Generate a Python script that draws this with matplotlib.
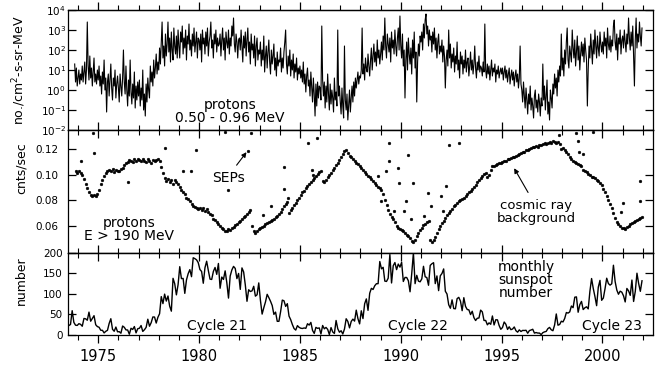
import numpy as np
import matplotlib
matplotlib.use("Agg")
import matplotlib.pyplot as plt
from matplotlib.ticker import MultipleLocator, NullLocator, NullFormatter, FixedLocator, LogFormatterSciNotation

# ---------------- data ----------------
# Panel 1: log10 of 0.50-0.96 MeV proton flux, half-month steps
flux_start = 1973.833
flux_step = 1 / 24
flux_log10 = [
    1.3, 0.4, 1.1, 0.2,
    0.6, 1.0, 0.3, 0.8, 0.5, 1.2, 0.4, 0.9, 1.4, 0.3, 1.0, 3.4, 1.2, 0.5, 1.7, 0.6, 1.1, 0.2, 0.9, 1.6, 0.4, 0.8, 0.3, 1.0,
    0.5, 1.2, 0.2, 0.7, -0.2, 0.9, 0.3, 1.5, 0.0, 0.6, -1.1, 0.4, 0.8, -0.3, 0.5, 1.3, 0.1, -0.5, 0.6, 0.2, 1.0, -0.4, 0.3, 0.7,
    0.1, -0.6, 0.8, 0.2, -0.3, 0.6, 2.0, 0.4, -0.2, 1.2, 0.0, -0.8, 0.5, -0.3, 1.5, -0.1, -0.7, 0.3, -0.4, 0.9, -0.9, 0.2, -0.5, 0.4,
    -0.3, 0.5, -0.8, 0.1, -0.5, 1.0, -1.0, -0.2, -1.3, 0.3, -0.6, 0.6, 0.0, -0.4, 1.2, 0.4, 0.9, 0.2, 1.5, 0.6, 1.1, 1.8, 0.8, 1.4,
    1.0, 2.1, 1.3, 2.4, 3.4, 1.6, 2.2, 1.2, 2.8, 1.7, 2.3, 3.4, 1.9, 2.6, 1.4, 2.9, 2.0, 1.5, 3.1, 2.2, 1.8, 2.7, 1.6, 3.0,
    2.2, 1.6, 2.9, 2.4, 3.2, 1.8, 2.6, 2.1, 3.0, 1.5, 2.7, 2.3, 3.3, 2.0, 2.5, 1.7, 2.8, 2.2, 3.1, 1.9, 2.4, 2.9, 1.6, 2.6,
    2.5, 2.0, 2.8, 1.4, 3.0, 2.3, 2.6, 1.8, 2.9, 2.2, 3.1, 1.7, 2.4, 2.7, 3.4, 2.1, 2.5, 1.6, 2.8, 2.3, 3.0, 1.9, 2.6, 2.2,
    2.3, 2.8, 1.7, 2.5, 3.1, 2.0, 2.6, 1.5, 2.9, 2.4, 2.1, 3.0, 1.8, 2.6, 2.2, 3.2, 2.7, 3.6, 2.3, 1.9, 2.8, 2.4, 1.6, 2.5,
    2.6, 2.0, 3.0, 2.2, 1.4, 2.7, 2.1, 2.9, 1.7, 2.5, 3.1, 1.9, 2.4, 1.3, 2.8, 2.0, 2.3, 1.6, 2.7, 1.2, 2.2, 2.6, 1.5, 2.0,
    1.8, 2.4, 1.2, 2.0, 1.5, 2.7, 0.9, 1.7, 2.2, 1.1, 1.9, 2.5, 1.4, 0.8, 2.0, 1.3, 1.7, 2.3, 1.0, 1.6, 0.7, 1.9, 1.2, 1.5,
    1.4, 2.1, 0.9, 1.6, 1.1, 1.9, 2.4, 3.0, 1.3, 0.8, 1.7, 1.2, 2.0, 0.7, 1.5, 1.0, 1.8, 0.6, 1.3, 0.9, 1.6, 0.5, 1.1, 0.8,
    1.2, 0.6, 1.0, 0.4, 1.4, 0.3, 0.8, -0.1, 0.7, 1.1, 0.2, 0.5, -0.3, 0.9, 0.1, -0.6, 0.6, -0.2, -1.3, 0.3, -0.8, 0.4, -0.4, 0.2,
    0.1, -0.5, 3.2, 0.5, -0.3, 0.4, -0.9, 0.2, -0.6, 0.8, -0.2, -1.0, 0.3, -0.7, 0.0, -0.4, -1.1, 0.6, -0.5, -0.1, -0.8, 3.0, -0.3, 0.2,
    -0.6, -1.2, 0.1, -0.8, -1.4, 2.2, -0.5, -1.0, -0.2, -1.5, -0.7, 0.0, -1.1, -0.4, 0.2, -0.6, 0.4, -0.3, 0.6, 0.1, 0.5, 0.9, 0.3, 0.7,
    0.6, 1.0, 3.1, 0.8, 1.3, 0.5, 1.6, 1.1, 0.9, 1.8, 1.2, 0.7, 1.5, 2.1, 1.0, 1.7, 2.3, 1.4, 1.9, 1.2, 2.5, 1.6, 2.0, 1.3,
    1.8, 2.4, 1.5, 2.7, 2.0, 3.6, 2.2, 1.6, 2.8, 2.3, 1.9, 2.6, 1.4, 2.9, 2.1, 2.5, 1.8, 3.0, 2.2, 1.7, 2.6, 3.1, 2.0, 3.7,
    2.2, 1.6, 2.8, 1.2, 2.0, -0.4, 1.5, 2.4, 1.0, 2.6, 1.8, 1.3, 2.1, 0.8, 2.5, 1.6, 2.9, 1.1, 1.9, -0.6, 1.4, 2.3, 1.7, 2.7,
    2.4, 2.9, 2.0, 3.3, 2.6, 3.5, 3.8, 2.8, 3.2, 2.2, 3.0, 2.5, 2.7, 1.9, 2.9, 2.3, 3.1, 2.0, 2.6, 1.6, 2.4, 2.8, 1.8, 2.2,
    1.9, 2.5, 1.4, 2.2, 1.7, 0.1, 1.5, 2.0, 1.2, 3.0, 1.6, 2.3, 1.1, 1.8, 1.4, 2.1, 0.9, 1.7, 1.3, 2.4, 1.0, 1.5, 0.6, 1.9,
    1.3, 1.7, 0.8, 1.5, 1.1, 2.0, 0.9, 1.4, 1.6, 0.7, 1.2, 1.9, 1.0, 1.5, 0.8, 1.3, 2.2, 1.1, 0.6, 1.4, 1.0, 1.7, 0.9, 1.2,
    1.1, 0.7, 1.4, 0.9, 3.3, 1.0, 0.6, 1.3, 0.8, 1.2, 0.5, 1.0, 1.5, 0.7, 1.1, 0.9, 1.3, 0.4, 1.0, 0.8, 1.2, 0.6, 0.9, 1.1,
    0.8, 1.1, 0.5, 0.9, 1.2, 0.6, 1.0, 0.4, 0.8, 1.1, 0.3, 0.7, 1.0, 0.5, 0.9, 0.2, 0.7, 1.0, 0.4, 0.8, 0.1, 0.6, 2.2, 0.3,
    0.0, -0.6, 0.4, -0.3, -0.9, 0.1, -0.5, -1.2, -0.2, -0.7, 0.2, -1.0, -0.4, -0.8, -1.4, -0.3, 0.0, -0.9, -0.5, -1.1, -0.2, -0.6, -1.3, -0.4,
    -0.8, 1.3, -0.5, 0.2, -1.0, -0.3, 0.5, -1.2, -0.6, -1.5, 0.0, -0.4, -0.9, 0.3, -0.2, 0.8, 0.1, 0.6, -0.3, 1.0, 0.4, 1.2, 0.7, 2.8,
    1.0, 1.6, 0.7, 2.0, 1.3, 2.4, 3.1, 1.5, 1.1, 2.2, 1.8, 1.4, 3.0, 2.1, 1.6, 2.5, 1.2, 1.9, 2.7, 1.5, 2.2, 1.0, 1.8, 2.4,
    1.7, 2.3, 1.4, 2.6, 2.0, 1.5, -0.8, 1.0, 2.2, 1.6, 2.8, 2.0, 1.3, 2.5, 1.8, 3.0, 2.2, 1.6, 2.7, 2.1, 1.7, 2.9, 2.3, 1.9,
    2.4, 1.8, 2.9, 2.2, 2.6, 1.6, 3.1, 2.3, 2.0, 2.7, 1.9, 2.5, 2.2, 3.2, 3.5, 2.4, 2.0, 2.8, 1.5, 2.6, 2.3, 3.0, 1.8, 2.5,
    2.7, 2.1, 3.0, 2.4, 1.9, 2.8, 2.3, 3.6, 2.6, 2.0, 2.9, 2.2, 3.2, 1.7, 0.2, 2.5, 3.6, 2.1, 2.8, 2.4, 3.4, 2.7, 2.2, 3.1,
]

# Panel 2: >190 MeV proton count rate (cnts/sec), monthly from Nov 1973
cr_start = 1973.875
cr_step = 1 / 12
cr_rate = [
    0.1025, 0.1010,
    0.1030, 0.1015, 0.0995, 0.0965, 0.0930, 0.0895, 0.0860, 0.0840, 0.0830, 0.0840, 0.0835, 0.0850,
    0.0880, 0.0925, 0.0960, 0.0990, 0.1010, 0.1030, 0.1040, 0.1025, 0.1045, 0.1020, 0.1035, 0.1025,
    0.1030, 0.1045, 0.1055, 0.1075, 0.1090, 0.1100, 0.1115, 0.1110, 0.1100, 0.1125, 0.1110, 0.1125,
    0.1115, 0.1105, 0.1125, 0.1110, 0.1100, 0.1120, 0.1110, 0.1095, 0.1115, 0.1105, 0.1115, 0.1120,
    0.1110, 0.1060, 0.1010, 0.0975, 0.0950, 0.0965, 0.0940, 0.0955, 0.0930, 0.0960, 0.0945, 0.0925,
    0.0905, 0.0880, 0.0860, 0.0845, 0.0820, 0.0805, 0.0790, 0.0770, 0.0755, 0.0745, 0.0740, 0.0730,
    0.0735, 0.0720, 0.0740, 0.0715, 0.0730, 0.0705, 0.0695, 0.0680, 0.0655, 0.0645, 0.0625, 0.0615,
    0.0600, 0.0585, 0.0570, 0.0560, 0.0555, 0.0575, 0.0565, 0.0580, 0.0590, 0.0605, 0.0615, 0.0625,
    0.0635, 0.0650, 0.0665, 0.0675, 0.0690, 0.0705, 0.0720, 0.0600, 0.0560, 0.0545, 0.0555, 0.0570,
    0.0580, 0.0590, 0.0600, 0.0615, 0.0620, 0.0630, 0.0640, 0.0645, 0.0655, 0.0665, 0.0675, 0.0690,
    0.0710, 0.0730, 0.0750, 0.0770, 0.0785, 0.0700, 0.0720, 0.0740, 0.0760, 0.0780, 0.0800, 0.0820,
    0.0840, 0.0860, 0.0875, 0.0895, 0.0910, 0.0925, 0.0945, 0.0960, 0.0975, 0.0990, 0.1005, 0.1020,
    0.1030, 0.0950, 0.0940, 0.0960, 0.0980, 0.0995, 0.1015, 0.1035, 0.1055, 0.1075, 0.1095, 0.1115,
    0.1140, 0.1160, 0.1185, 0.1195, 0.1170, 0.1150, 0.1135, 0.1120, 0.1105, 0.1090, 0.1080, 0.1065,
    0.1050, 0.1035, 0.1020, 0.1005, 0.0990, 0.0980, 0.0965, 0.0950, 0.0935, 0.0920, 0.0905, 0.0895,
    0.0880, 0.0850, 0.0800, 0.0760, 0.0720, 0.0690, 0.0670, 0.0650, 0.0630, 0.0600, 0.0580, 0.0570,
    0.0565, 0.0555, 0.0545, 0.0530, 0.0515, 0.0500, 0.0480, 0.0470, 0.0490, 0.0515, 0.0540, 0.0565,
    0.0585, 0.0605, 0.0615, 0.0625, 0.0640, 0.0490, 0.0470, 0.0485, 0.0510, 0.0540, 0.0570, 0.0600,
    0.0620, 0.0640, 0.0660, 0.0680, 0.0700, 0.0715, 0.0730, 0.0750, 0.0765, 0.0780, 0.0790, 0.0800,
    0.0810, 0.0820, 0.0835, 0.0850, 0.0860, 0.0875, 0.0890, 0.0905, 0.0920, 0.0940, 0.0960, 0.0975,
    0.0990, 0.1005, 0.1015, 0.0985, 0.0995, 0.1040, 0.1065, 0.1070, 0.1075, 0.1080, 0.1090, 0.1095,
    0.1100, 0.1105, 0.1110, 0.1120, 0.1125, 0.1130, 0.1135, 0.1140, 0.1150, 0.1155, 0.1165, 0.1170,
    0.1175, 0.1180, 0.1190, 0.1195, 0.1200, 0.1210, 0.1215, 0.1220, 0.1225, 0.1220, 0.1230, 0.1235,
    0.1240, 0.1245, 0.1240, 0.1250, 0.1255, 0.1250, 0.1260, 0.1255, 0.1245, 0.1255, 0.1240, 0.1200,
    0.1210, 0.1190, 0.1175, 0.1160, 0.1140, 0.1120, 0.1110, 0.1100, 0.1095, 0.1085, 0.1075, 0.1070,
    0.1040, 0.1030, 0.1020, 0.1005, 0.0995, 0.0985, 0.0980, 0.0970, 0.0960, 0.0950, 0.0935, 0.0915,
    0.0890, 0.0860, 0.0830, 0.0800, 0.0770, 0.0740, 0.0700, 0.0660, 0.0630, 0.0610, 0.0600, 0.0585,
    0.0580, 0.0575, 0.0590, 0.0600, 0.0610, 0.0620, 0.0630, 0.0640, 0.0645, 0.0655, 0.0660, 0.0665,
]

# Solar energetic particle (SEP) outliers in panel 2
sep_years = [1974.15, 1974.75, 1974.8, 1976.5, 1978.3, 1979.2, 1979.6, 1979.85, 1981.3, 1981.45,
             1982.45, 1982.55, 1983.15, 1983.55, 1984.2, 1984.22, 1984.4, 1985.4, 1985.6, 1985.65,
             1985.85, 1988.85, 1989.0, 1989.25, 1989.4, 1989.42, 1989.65, 1989.85, 1989.9, 1990.15,
             1990.25, 1990.35, 1990.5, 1990.6, 1991.15, 1991.35, 1991.5, 1992.0, 1992.1, 1992.25,
             1992.4, 1992.9, 1997.85, 1998.7, 1998.8, 1998.85, 1999.05, 1999.55, 2000.9, 2001.0,
             2001.85, 2001.87]
sep_rates = [0.1105, 0.1327, 0.1170, 0.0940, 0.1208, 0.1026, 0.1026, 0.1190, 0.1335, 0.0876,
             0.1184, 0.1330, 0.0680, 0.0757, 0.1058, 0.0884, 0.0820, 0.1248, 0.1034, 0.0995,
             0.1287, 0.0987, 0.0790, 0.1026, 0.1248, 0.1105, 0.0718, 0.1050, 0.0931, 0.0718,
             0.0797, 0.1153, 0.0655, 0.0931, 0.0678, 0.0852, 0.0750, 0.0829, 0.0718, 0.0908,
             0.1230, 0.1248, 0.1310, 0.1327, 0.1260, 0.1180, 0.1160, 0.1335, 0.0710, 0.0776,
             0.0790, 0.0947]

# Panel 3: monthly sunspot number, Jul 1973 - Dec 2001
ssn_start = 1973.542
ssn_step = 1 / 12
ssn = [
    23.1, 25.6, 59.3, 30.7, 23.9, 23.3,
    27.6, 26.0, 21.3, 40.3, 39.5, 36.0, 55.8, 33.6, 40.2, 47.1, 25.0, 20.5,
    18.9, 11.5, 11.5, 5.1, 9.0, 11.4, 28.2, 39.7, 13.9, 9.1, 19.4, 7.8,
    8.1, 4.3, 21.9, 18.8, 12.4, 12.2, 1.9, 16.4, 13.5, 20.6, 5.2, 15.3,
    16.4, 23.1, 8.7, 12.9, 18.6, 38.5, 21.4, 30.1, 44.0, 43.8, 29.1, 43.2,
    51.9, 93.6, 76.5, 99.7, 82.7, 95.1, 70.4, 58.1, 138.2, 125.1, 97.9, 122.7,
    166.6, 137.5, 138.0, 101.5, 134.4, 149.5, 159.4, 142.2, 188.4, 186.2, 183.3, 176.3,
    159.6, 155.0, 126.2, 164.1, 179.9, 157.3, 136.3, 135.4, 155.0, 164.7, 147.9, 174.4,
    114.0, 141.3, 135.5, 156.4, 127.5, 90.0, 143.8, 158.7, 167.3, 162.4, 137.5, 150.1,
    111.2, 163.6, 153.8, 122.0, 82.2, 110.4, 106.1, 107.6, 118.8, 94.7, 98.1, 127.0,
    84.3, 51.0, 66.5, 80.7, 99.2, 91.1, 82.2, 71.8, 50.3, 55.8, 33.3, 33.4,
    57.0, 85.1, 83.5, 69.7, 76.4, 46.1, 37.4, 25.5, 15.7, 12.0, 22.8, 18.7,
    16.5, 15.9, 17.2, 16.2, 27.5, 24.2, 30.7, 11.1, 3.9, 18.6, 16.2, 17.3,
    2.5, 23.2, 15.1, 18.5, 13.7, 1.1, 18.1, 7.4, 3.8, 35.4, 15.2, 6.8,
    10.4, 2.4, 14.7, 39.6, 33.0, 17.4, 33.0, 38.7, 33.9, 60.6, 39.9, 27.1,
    59.0, 40.0, 76.2, 88.0, 60.1, 101.8, 113.8, 111.0, 120.1, 125.1, 125.1, 179.2,
    161.3, 165.1, 131.4, 130.6, 138.5, 196.2, 126.9, 168.9, 176.7, 159.4, 173.0, 165.5,
    177.3, 130.5, 140.3, 140.3, 132.2, 105.4, 149.4, 200.3, 125.2, 145.5, 131.4, 129.7,
    136.9, 167.5, 141.9, 140.0, 121.3, 169.7, 173.7, 176.3, 125.3, 144.1, 108.2, 144.4,
    150.0, 161.1, 106.7, 99.8, 73.8, 65.2, 85.7, 64.5, 63.9, 88.7, 91.8, 82.6,
    59.3, 91.0, 69.8, 62.2, 61.3, 49.8, 57.9, 42.4, 35.3, 40.8, 41.5, 60.7,
    56.3, 35.4, 35.4, 24.8, 29.6, 26.1, 46.4, 24.5, 37.2, 36.9, 23.2, 13.9,
    18.3, 31.7, 26.2, 13.6, 20.0, 13.0, 14.6, 19.6, 10.5, 6.9, 12.5, 8.5,
    11.2, 11.0, 11.5, 4.3, 10.8, 12.2, 14.0, 4.6, 6.0, 4.7, 4.7, 0.9,
    5.7, 7.6, 8.7, 15.5, 18.5, 12.7, 10.4, 24.4, 51.3, 23.9, 25.6, 33.6,
    31.9, 40.3, 54.8, 53.4, 56.3, 70.7, 66.6, 92.2, 92.9, 55.5, 74.0, 81.9,
    62.0, 66.3, 68.8, 63.7, 106.4, 137.7, 113.5, 93.7, 71.5, 116.7, 133.2, 84.6,
    90.1, 112.9, 138.5, 125.5, 121.6, 124.9, 170.1, 130.5, 109.7, 99.4, 106.8, 104.4,
    95.6, 80.6, 113.5, 107.7, 96.6, 134.0, 81.8, 106.4, 150.7, 125.5, 106.5, 132.2,
]

x_major_ticks = [1975, 1980, 1985, 1990, 1995, 2000]
flux_ticks = [1e-2, 1e-1, 1e0, 1e1, 1e2, 1e3, 1e4]
cr_ticks = [0.06, 0.08, 0.10, 0.12]
ssn_ticks = [0, 50, 100, 150, 200]

# ---------------- figure ----------------
plt.rcParams['font.family'] = ['DejaVu Sans']
fig = plt.figure(figsize=(6.67, 3.65), dpi=100)
L, W = 0.1019, 0.877
ax1 = fig.add_axes([L, 0.6438, W, 0.3288])
ax2 = fig.add_axes([L, 0.3068, W, 0.3370])
ax3 = fig.add_axes([L, 0.0822, W, 0.2247])

t_flux = flux_start + flux_step * np.arange(len(flux_log10))
t_cr = cr_start + cr_step * np.arange(len(cr_rate))
t_ssn = ssn_start + ssn_step * np.arange(len(ssn))

ax1.plot(t_flux, 10 ** np.array(flux_log10), color='black', lw=0.8)
ax2.plot(t_cr, cr_rate, ls='none', marker='o', ms=2.0, mfc='black', mec='black', mew=0.3)
ax2.plot(sep_years, sep_rates, ls='none', marker='o', ms=2.0, mfc='black', mec='black', mew=0.3)
ax3.plot(t_ssn, ssn, color='black', lw=1.0)

for ax in (ax1, ax2, ax3):
    ax.set_xlim(1973.5, 2002.5)
    for s in ax.spines.values():
        s.set_linewidth(0.9)

ax1.set_yscale('log')
ax1.set_ylim(1e-2, 1e4)
ax1.yaxis.set_major_locator(FixedLocator(flux_ticks))
ax1.yaxis.set_minor_locator(NullLocator())
ax1.yaxis.set_major_formatter(LogFormatterSciNotation())
ax2.set_ylim(0.0385, 0.135)
ax2.yaxis.set_major_locator(FixedLocator(cr_ticks))
ax2.yaxis.set_major_formatter(plt.FuncFormatter(lambda v, p: f"{v:.2f}"))
ax3.set_ylim(0, 200)
ax3.yaxis.set_major_locator(FixedLocator(ssn_ticks))


def set_x_ticks(ax, bottom_dir, top_dir, labels):
    ax.xaxis.set_major_locator(FixedLocator(x_major_ticks))
    ax.xaxis.set_minor_locator(MultipleLocator(1))
    ax.tick_params(axis='x', which='major', direction=bottom_dir, length=6, width=0.9,
                   top=False, labelbottom=labels, labelsize=10.5, pad=4)
    ax.tick_params(axis='x', which='minor', direction=bottom_dir, length=3.5, width=0.8, top=False)
    sec = ax.secondary_xaxis('top')
    sec.xaxis.set_major_locator(FixedLocator(x_major_ticks))
    sec.xaxis.set_minor_locator(MultipleLocator(1))
    sec.xaxis.set_major_formatter(NullFormatter())
    sec.tick_params(axis='x', which='major', direction=top_dir, length=6, width=0.9)
    sec.tick_params(axis='x', which='minor', direction=top_dir, length=3.5, width=0.8)
    sec.spines['top'].set_linewidth(0.9)


set_x_ticks(ax1, 'in', 'out', False)
set_x_ticks(ax2, 'in', 'in', False)
set_x_ticks(ax3, 'out', 'in', True)

ax1.tick_params(axis='y', which='major', direction='in', left=True, right=True, length=6,
                width=0.9, labelsize=7.5, pad=1.5)
ax2.tick_params(axis='y', which='major', direction='in', left=True, right=True, length=6,
                width=0.9, labelsize=7.5, pad=7)
ax3.tick_params(axis='y', which='major', direction='in', left=True, right=True, length=6,
                width=0.9, labelsize=7.5, pad=4)

ax1.set_ylabel('no./cm$^2$-s-sr-MeV', fontsize=9)
ax1.yaxis.set_label_coords(-0.068, 0.5)
ax2.set_ylabel('cnts/sec', fontsize=9)
ax2.yaxis.set_label_coords(-0.068, 0.69)
ax3.set_ylabel('number', fontsize=9)
ax3.yaxis.set_label_coords(-0.068, 0.66)

# annotations
arrow_kw = dict(arrowstyle='-|>', color='black', lw=0.8, mutation_scale=7, shrinkA=0, shrinkB=0)
ax1.text(0.277, 0.154, 'protons\n0.50 - 0.96 MeV', transform=ax1.transAxes,
         ha='center', va='center', fontsize=10, linespacing=0.95)
ax2.text(0.104, 0.191, 'protons\nE > 190 MeV', transform=ax2.transAxes,
         ha='center', va='center', fontsize=10, linespacing=0.95)
ax2.text(1981.45, 0.0972, 'SEPs', ha='center', va='center', fontsize=10)
ax2.annotate('', xy=(1982.35, 0.1176), xytext=(1981.86, 0.1074), arrowprops=arrow_kw)
ax2.text(1996.7, 0.0706, 'cosmic ray\nbackground', ha='center', va='center', fontsize=9.5,
         linespacing=0.95)
ax2.annotate('', xy=(1995.62, 0.1050), xytext=(1996.31, 0.0860), arrowprops=arrow_kw)
ax3.text(1980.9, 22, 'Cycle 21', ha='center', va='center', fontsize=10)
ax3.text(1990.85, 22, 'Cycle 22', ha='center', va='center', fontsize=10)
ax3.text(2000.45, 22, 'Cycle 23', ha='center', va='center', fontsize=10)
ax3.text(1996.2, 135, 'monthly\nsunspot\nnumber', ha='center', va='center', fontsize=10,
         linespacing=0.9)

fig.savefig('out.png', dpi=100)
